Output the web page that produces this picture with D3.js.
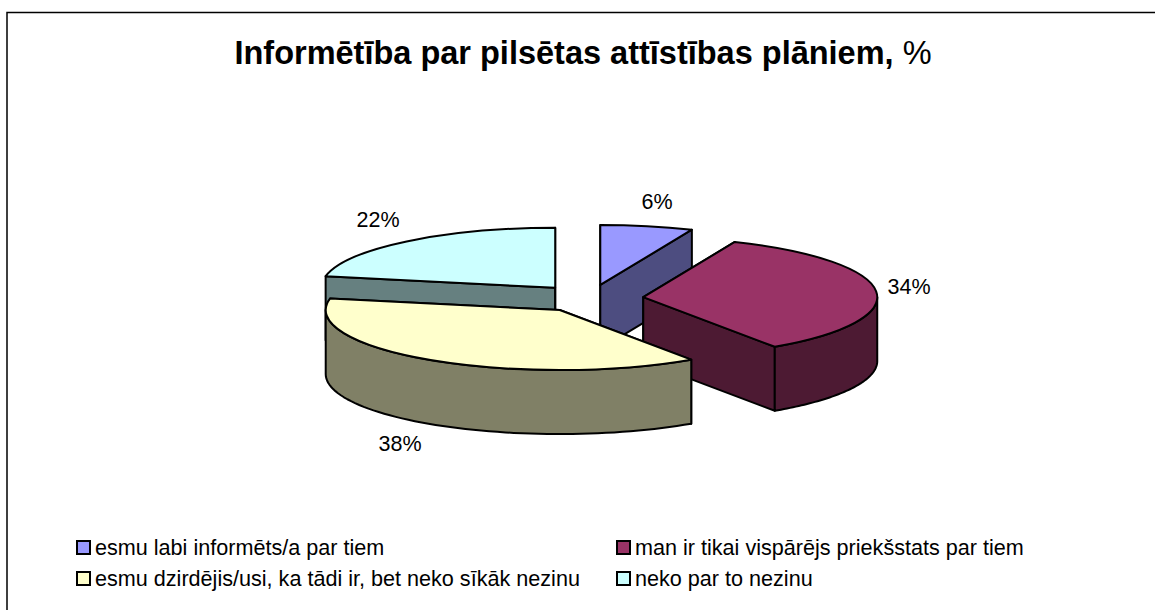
<!DOCTYPE html>
<html>
<head>
<meta charset="utf-8">
<script src="https://cdn.jsdelivr.net/npm/d3@7"></script>
<style>
  html, body { margin: 0; padding: 0; background: #fff; }
  svg { display: block; }
  text { font-family: "Liberation Sans", Arial, sans-serif; fill: #000; }
</style>
</head>
<body>
<div id="chart"></div>
<script>
const categories = [
    "esmu labi informēts/a par tiem",
    "man ir tikai vispārējs priekšstats par tiem",
    "esmu dzirdējis/usi, ka tādi ir, bet neko sīkāk nezinu",
    "neko par to nezinu"
];
const values = [6.4, 34.1, 37.6, 21.9];
const topColors = ["#9999ff", "#993366", "#ffffcc", "#ccffff"];
const sideColors = ["#4d4d80", "#4d1a33", "#808066", "#668080"];
const titleBold = "Informētība par pilsētas attīstības plāniem,";
const titleRest = " %";

const width = 1155, height = 610;

// pie geometry
const cx = 589.5, cy = 298.5, rx = 234, ry = 60, depth = 64, explode = 54;
const squash = ry / rx;

const svg = d3.select("#chart").append("svg")
    .attr("width", width)
    .attr("height", height);

// only the top and left edges of the frame are in the picture
svg.append("path")
    .attr("d", d3.line()([[7, height], [7, 12.5], [width, 12.5]]))
    .attr("fill", "none")
    .attr("stroke", "#000")
    .attr("stroke-width", 1.5);

const title = svg.append("text")
    .attr("x", 583).attr("y", 63.5)
    .attr("text-anchor", "middle")
    .attr("font-size", 32.5);
title.append("tspan").attr("font-weight", "bold").text(titleBold);
title.append("tspan").text(titleRest);

const slices = d3.pie().sort(null).value(d => d)(values);
const arc = d3.arc().innerRadius(0).outerRadius(rx);

// ellipse point for an angle, 0 at the top, clockwise
const px = (a) => rx * Math.sin(a);
const py = (a) => -ry * Math.cos(a);
const line = d3.line();

function rimWall(d) {
    const a0 = Math.max(d.startAngle, Math.PI / 2);
    const a1 = Math.min(d.endAngle, Math.PI * 1.5);
    if (a0 >= a1) return null;
    const steps = d3.range(0, 1.0001, 1 / 60).map(t => a0 + (a1 - a0) * t);
    const upper = steps.map(a => [px(a), py(a)]);
    const lower = steps.slice().reverse().map(a => [px(a), py(a) + depth]);
    return line(upper.concat(lower)) + "Z";
}

function radialWall(a) {
    return line([[0, 0], [px(a), py(a)], [px(a), py(a) + depth], [0, depth]]) + "Z";
}

// back to front
const paintOrder = [0, 3, 1, 2];
paintOrder.forEach(i => {
    const d = slices[i];
    const mid = (d.startAngle + d.endAngle) / 2;
    const g = svg.append("g")
        .attr("transform", `translate(${cx + explode * Math.sin(mid)},${cy - explode * squash * Math.cos(mid)})`)
        .attr("stroke", "#000")
        .attr("stroke-width", 2)
        .attr("stroke-linejoin", "round");

    [d.startAngle, d.endAngle].forEach(a => {
        g.append("path").attr("d", radialWall(a)).attr("fill", sideColors[i]);
    });
    const rim = rimWall(d);
    if (rim) g.append("path").attr("d", rim).attr("fill", sideColors[i]);

    g.append("path")
        .attr("d", arc(d))
        .attr("transform", `scale(1,${squash})`)
        .attr("vector-effect", "non-scaling-stroke")
        .attr("fill", topColors[i]);
});

// data labels
const labelPos = [[657, 209], [909, 294], [400, 451], [378, 227]];
svg.selectAll("text.label")
    .data(slices)
    .join("text")
    .attr("class", "label")
    .attr("x", (d, i) => labelPos[i][0])
    .attr("y", (d, i) => labelPos[i][1])
    .attr("text-anchor", "middle")
    .attr("font-size", 21.5)
    .text(d => d3.format(".0f")(d.value) + "%");

// legend, two by two
const legendPos = [[77, 555], [617, 555], [77, 586], [617, 586]];
const legend = svg.selectAll("g.legend")
    .data(categories)
    .join("g")
    .attr("class", "legend")
    .attr("transform", (d, i) => `translate(${legendPos[i][0]},${legendPos[i][1]})`);

legend.append("rect")
    .attr("x", 0).attr("y", -14)
    .attr("width", 13).attr("height", 13)
    .attr("fill", (d, i) => topColors[i])
    .attr("stroke", "#000")
    .attr("stroke-width", 2);

legend.append("text")
    .attr("x", 18).attr("y", 0)
    .attr("font-size", 21.6)
    .text(d => d);
</script>
</body>
</html>
